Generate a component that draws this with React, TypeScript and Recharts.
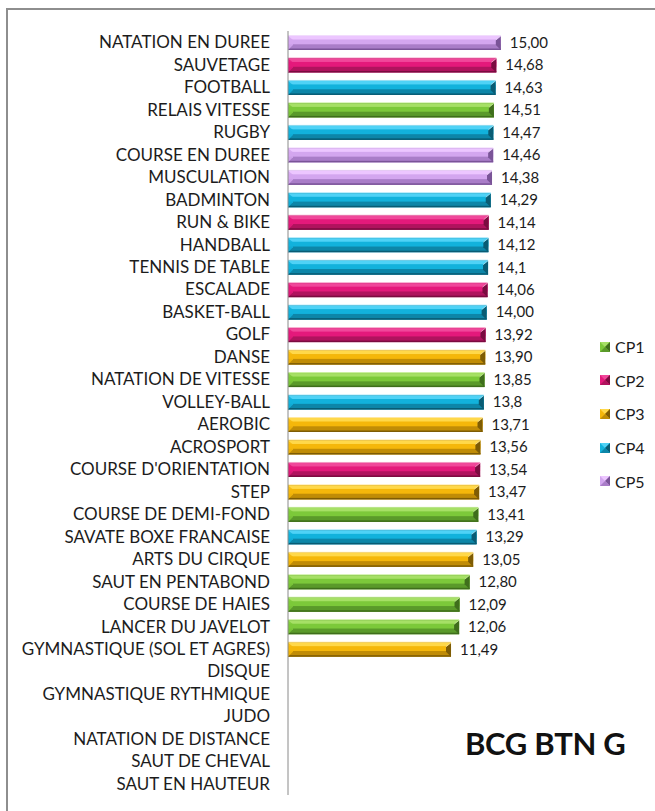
import React from 'react'
import { BarChart, Bar, XAxis, YAxis, Cell, LabelList } from 'recharts'

const sports = [
  'NATATION EN DUREE',
  'SAUVETAGE',
  'FOOTBALL',
  'RELAIS VITESSE',
  'RUGBY',
  'COURSE EN DUREE',
  'MUSCULATION',
  'BADMINTON',
  'RUN & BIKE',
  'HANDBALL',
  'TENNIS DE TABLE',
  'ESCALADE',
  'BASKET-BALL',
  'GOLF',
  'DANSE',
  'NATATION DE VITESSE',
  'VOLLEY-BALL',
  'AEROBIC',
  'ACROSPORT',
  "COURSE D'ORIENTATION",
  'STEP',
  'COURSE DE DEMI-FOND',
  'SAVATE BOXE FRANCAISE',
  'ARTS DU CIRQUE',
  'SAUT EN PENTABOND',
  'COURSE DE HAIES',
  'LANCER DU JAVELOT',
  'GYMNASTIQUE (SOL ET AGRES)',
  'DISQUE',
  'GYMNASTIQUE RYTHMIQUE',
  'JUDO',
  'NATATION DE DISTANCE',
  'SAUT DE CHEVAL',
  'SAUT EN HAUTEUR',
]

const scores = [
  15.0, 14.68, 14.63, 14.51, 14.47, 14.46, 14.38, 14.29, 14.14, 14.12, 14.1, 14.06,
  14.0, 13.92, 13.9, 13.85, 13.8, 13.71, 13.56, 13.54, 13.47, 13.41, 13.29, 13.05,
  12.8, 12.09, 12.06, 11.49, null, null, null, null, null, null,
]

const scoreLabels = [
  '15,00', '14,68', '14,63', '14,51', '14,47', '14,46', '14,38', '14,29', '14,14', '14,12',
  '14,1', '14,06', '14,00', '13,92', '13,90', '13,85', '13,8', '13,71', '13,56', '13,54',
  '13,47', '13,41', '13,29', '13,05', '12,80', '12,09', '12,06', '11,49',
  '', '', '', '', '', '',
]

const groups = [
  'CP5', 'CP2', 'CP4', 'CP1', 'CP4', 'CP5', 'CP5', 'CP4', 'CP2', 'CP4', 'CP4', 'CP2',
  'CP4', 'CP2', 'CP3', 'CP1', 'CP4', 'CP3', 'CP3', 'CP2', 'CP3', 'CP1', 'CP4', 'CP3',
  'CP1', 'CP1', 'CP1', 'CP3', 'CP3', 'CP3', 'CP3', 'CP3', 'CP3', 'CP3',
]

const groupNames = ['CP1', 'CP2', 'CP3', 'CP4', 'CP5']

// shades for the bevelled look: edge, highlight, body, shadow, end cap
const palette: Record<string, { edge: string; light: string; mid: string; dark: string; cap: string }> = {
  CP1: { edge: '#c8ef9c', light: '#a6e066', mid: '#7cc93a', dark: '#5a9a2a', cap: '#3f6e1c' },
  CP2: { edge: '#f7a6cc', light: '#f0479a', mid: '#e4197b', dark: '#b0135e', cap: '#7a0c40' },
  CP3: { edge: '#ffe7a0', light: '#ffd84a', mid: '#f5b70a', dark: '#c08c06', cap: '#7e5c04' },
  CP4: { edge: '#a6e6f8', light: '#4fd2f6', mid: '#12b2dc', dark: '#0d86a8', cap: '#095c74' },
  CP5: { edge: '#f1dcfc', light: '#ecc6ff', mid: '#d3a6ef', dark: '#a97dc8', cap: '#7a5498' },
}

const data = sports.map((name, i) => ({
  name,
  score: scores[i],
  label: scoreLabels[i],
  cp: groups[i],
}))

const FONT = 'Lato, "Open Sans", sans-serif'

function BevelBar(props: any) {
  const { x, y, width, height, payload } = props
  if (!payload || payload.score == null || !width || width <= 0) return null
  const c = palette[payload.cp]
  const b = 5
  const r = x + width
  const btm = y + height
  return (
    <g>
      <rect x={x} y={y} width={width} height={height} fill={c.edge} />
      <rect x={x} y={y + 1} width={width} height={height - 1} fill={c.dark} />
      <rect x={x} y={y + 1} width={width} height={height * 0.28} fill={c.light} />
      <rect x={x} y={y + height * 0.3} width={width} height={height * 0.32} fill={c.mid} />
      <rect x={x} y={btm - 1.5} width={width} height={1.5} fill={c.cap} />
      <polygon
        points={`${x},${y + 1} ${x + b},${y + b} ${x + b},${btm - b} ${x},${btm}`}
        fill={c.mid}
        opacity={0.85}
      />
      <polygon
        points={`${r},${y + 1} ${r},${btm} ${r - b},${btm - b} ${r - b},${y + b}`}
        fill={c.cap}
      />
      <line x1={r - b} y1={y + b} x2={r} y2={y + 1} stroke={c.edge} strokeWidth={0.8} />
    </g>
  )
}

function LegendSwatch({ cp }: { cp: string }) {
  const c = palette[cp]
  return (
    <svg width={10} height={10} style={{ display: 'block' }}>
      <rect x={0} y={0} width={10} height={10} fill={c.mid} />
      <polygon points="0,0 10,0 5,5" fill={c.light} />
      <polygon points="10,0 10,10 5,5" fill={c.cap} />
      <polygon points="0,10 10,10 5,5" fill={c.dark} />
    </svg>
  )
}

export default function App() {
  return (
    <div style={{ position: 'fixed', left: 0, top: 0, width: 655, height: 811, background: '#fff', overflow: 'hidden' }}>
      <div
        style={{
          position: 'absolute',
          left: 6,
          top: 8,
          width: 660,
          height: 820,
          borderLeft: '2px solid #8e8e8e',
          borderTop: '2px solid #8e8e8e',
        }}
      />
      <div style={{ position: 'absolute', left: 0, top: 0 }}>
        <BarChart
          width={655}
          height={811}
          data={data}
          layout="vertical"
          margin={{ top: 31, right: 140, bottom: 16, left: 0 }}
          barSize={15}
        >
          <XAxis type="number" domain={[0, 16]} hide />
          <YAxis
            type="category"
            dataKey="name"
            width={288}
            interval={0}
            tickLine={false}
            tickSize={0}
            tickMargin={18}
            axisLine={{ stroke: '#8a8a8a' }}
            tick={{ fill: '#1c1c1c', fontSize: 17, fontFamily: FONT }}
          />
          <Bar dataKey="score" isAnimationActive={false} shape={<BevelBar />}>
            {data.map((d) => (
              <Cell key={d.name} fill={palette[d.cp].mid} />
            ))}
            <LabelList
              dataKey="label"
              position="right"
              offset={9}
              style={{ fill: '#1c1c1c', fontSize: 15, fontFamily: FONT }}
            />
          </Bar>
        </BarChart>
      </div>
      <div style={{ position: 'absolute', left: 600, top: 330, fontFamily: FONT, fontSize: 16, color: '#1c1c1c' }}>
        {groupNames.map((g) => (
          <div key={g} style={{ display: 'flex', alignItems: 'center', height: 33.6 }}>
            <LegendSwatch cp={g} />
            <span style={{ marginLeft: 5 }}>{g}</span>
          </div>
        ))}
      </div>
      <div
        style={{
          position: 'absolute',
          left: 465,
          top: 724,
          fontFamily: FONT,
          fontWeight: 700,
          fontSize: 31,
          color: '#111',
          letterSpacing: -0.3,
        }}
      >
        BCG BTN G
      </div>
    </div>
  )
}
